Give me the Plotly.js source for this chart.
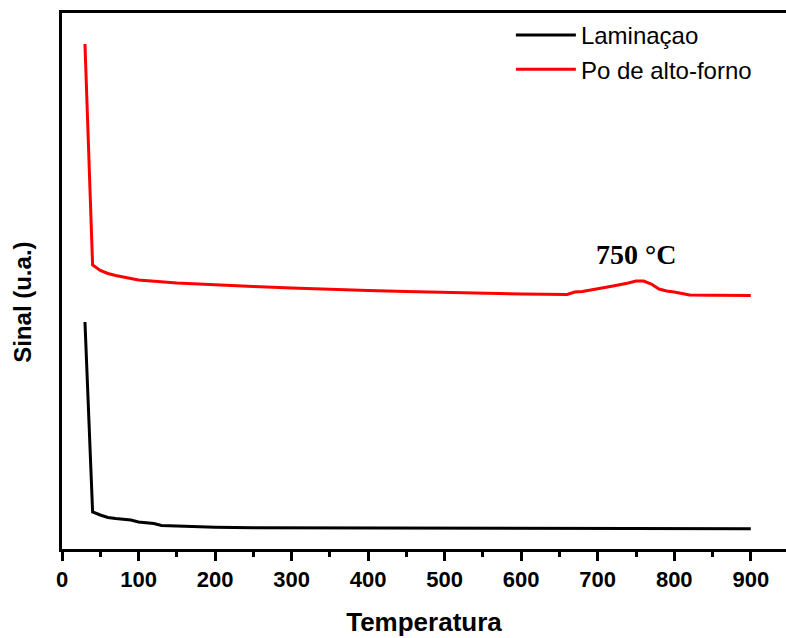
<!DOCTYPE html>
<html>
<head>
<meta charset="utf-8">
<script src="https://cdn.plot.ly/plotly-3.0.1.min.js"></script>
<style>html,body{margin:0;padding:0;background:#fff;}#chart{width:786px;height:638px;}</style>
</head>
<body>
<div id="chart"></div>
<script>
// Temperature (°C)
const tempLam = [30, 40, 50, 60, 70, 80, 90, 100, 110, 120, 130, 150, 200, 250, 300, 400, 450, 500, 600, 700, 780, 900];
// Signal (a.u.) - Laminaçao
const sigLam = [42.35, 6.90, 6.34, 5.88, 5.69, 5.60, 5.41, 5.04, 4.94, 4.76, 4.38, 4.29, 4.05, 3.97, 3.95, 3.95, 3.92, 3.86, 3.82, 3.81, 3.77, 3.77];

const tempPo = [30, 40, 50, 60, 70, 80, 100, 150, 200, 250, 300, 350, 400, 450, 500, 550, 600, 660, 670, 680, 700, 720, 740, 750, 760, 770, 780, 790, 800, 820, 850, 900];
// Signal (a.u.) - Po de alto-forno
const sigPo = [94.22, 52.99, 51.96, 51.40, 51.03, 50.75, 50.19, 49.63, 49.25, 48.97, 48.69, 48.41, 48.23, 48.04, 47.85, 47.70, 47.57, 47.48, 47.95, 48.04, 48.51, 49.07, 49.63, 50.00, 50.00, 49.44, 48.51, 48.13, 47.95, 47.39, 47.33, 47.29];

const seriesNames = ["Laminaçao", "Po de alto-forno"];
const xTicks = [0, 100, 200, 300, 400, 500, 600, 700, 800, 900];
const peakLabel = "750 °C";
const peakX = 750;
const peakY = 55;

const sans = "Liberation Sans, Arial, sans-serif";

const traces = [
  {x: tempLam, y: sigLam, name: seriesNames[0], type: "scatter", mode: "lines",
   line: {color: "#000000", width: 3}},
  {x: tempPo, y: sigPo, name: seriesNames[1], type: "scatter", mode: "lines",
   line: {color: "#ff0000", width: 3}}
];

const layout = {
  width: 786, height: 638,
  margin: {l: 62, r: 0, t: 13, b: 89},
  paper_bgcolor: "#ffffff", plot_bgcolor: "#ffffff",
  showlegend: true,
  legend: {x: 0.62, y: 1.0, xanchor: "left", yanchor: "top",
           font: {family: sans, size: 24, color: "#000"},
           bgcolor: "rgba(0,0,0,0)", borderwidth: 0, itemwidth: 60},
  xaxis: {
    range: [0, 946], showgrid: false, zeroline: false,
    showline: true, linecolor: "#000", linewidth: 3, mirror: true,
    ticks: "outside", ticklen: 9, tickwidth: 3, tickcolor: "#000",
    tickmode: "array", tickvals: xTicks, ticktext: xTicks.map(String),
    minor: {dtick: 50, ticks: "outside", ticklen: 5, tickwidth: 3, tickcolor: "#000"},
    tickfont: {family: sans, size: 22, color: "#000", weight: "bold"},
    title: {text: "Temperatura", font: {family: sans, size: 26, color: "#000", weight: "bold"}, standoff: 22}
  },
  yaxis: {
    range: [0, 100], showgrid: false, zeroline: false,
    showline: true, linecolor: "#000", linewidth: 3, mirror: false,
    ticks: "", showticklabels: false
  },
  annotations: [
    {text: peakLabel, x: peakX, y: peakY, xref: "x", yref: "y", showarrow: false,
     font: {family: "Liberation Serif, Times New Roman, serif", size: 28, color: "#000", weight: "bold"}},
    {text: "Sinal (u.a.)", x: -0.054, y: 0.461, xref: "paper", yref: "paper", showarrow: false,
     xanchor: "center", yanchor: "middle",
     textangle: -90, font: {family: sans, size: 24, color: "#000", weight: "bold"}}
  ]
};

Plotly.newPlot("chart", traces, layout, {displayModeBar: false, staticPlot: true});
</script>
</body>
</html>
